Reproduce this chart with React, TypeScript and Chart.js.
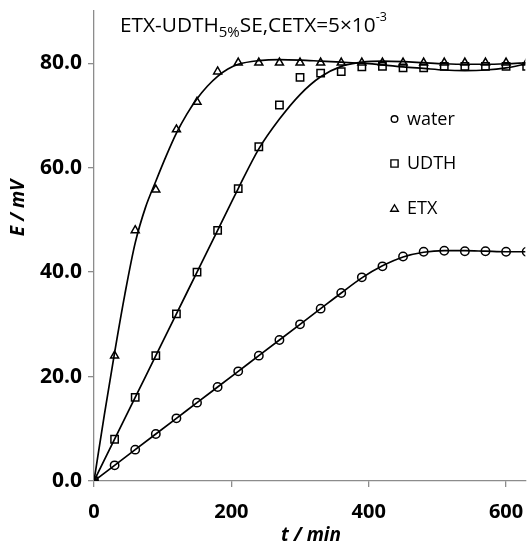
import React, { useEffect, useRef } from 'react';
import { Chart, registerables } from 'chart.js';

Chart.register(...registerables);

const FONT = '"Open Sans", "Noto Sans", sans-serif';
const AXIS_COLOR = '#8c8c8c';

// measurement times (min)
const times = [0, 30, 60, 90, 120, 150, 180, 210, 240, 270, 300, 330, 360, 390, 420, 450, 480, 510, 540, 570, 600, 630];
// measured E (mV)
const waterValues = [0, 3, 6, 9, 12, 15, 18, 21, 24, 27, 30, 33, 36, 39, 41.1, 43, 43.9, 44.1, 44, 44, 43.9, 43.9];
const udthValues = [0, 8, 16, 24, 32, 40, 48, 56, 64, 72, 77.3, 78.1, 78.4, 79.3, 79.4, 79.1, 79.1, 79.4, 79.4, 79.4, 79.4, 79.4];
const etxValues = [0, 24, 48, 55.8, 67.3, 72.6, 78.4, 80.1, 80.1, 80.1, 80.1, 80.1, 80.1, 80.1, 80.1, 80.1, 80.1, 80.1, 80.1, 80.1, 80.1, 80.1];

// fitted curves
const waterFitValues = [0, 3, 6, 9, 12, 15, 18, 21, 24, 27, 30, 33, 36, 38.9, 41.2, 42.9, 43.8, 44.1, 44.1, 44, 43.9, 43.9];
const udthFitValues = [0, 8, 16, 24, 32, 40, 48, 56, 63.6, 69.3, 74, 77.4, 79.4, 80.2, 80.4, 80.3, 80.1, 79.9, 79.8, 79.8, 79.9, 80.1];
const etxFitTimes = [0, 15, 30, 45, 60, 75, 90, 105, 120, 135, 150, 165, 180, 195, 210, 240, 270, 300, 330, 360, 390, 420, 450, 480, 510, 540, 570, 600, 630];
const etxFitValues = [0, 12.6, 24.6, 35.8, 45.6, 52.4, 57.4, 62.2, 66.6, 70.2, 73.2, 75.6, 77.5, 78.9, 79.8, 80.5, 80.7, 80.6, 80.4, 80.2, 80.0, 79.7, 79.3, 79.0, 78.7, 78.6, 78.7, 79.1, 79.9];

const seriesLabels = ['water', 'UDTH', 'ETX'];
const xTickValues = [0, 200, 400, 600];
const yTickValues = [0, 20, 40, 60, 80];
const xMax = 628;
const yMax = 90;

const toPoints = (xs: number[], ys: number[]) => xs.map((x, i) => ({ x, y: ys[i] }));

function drawMarker(ctx: CanvasRenderingContext2D, style: string, x: number, y: number, r: number) {
  ctx.beginPath();
  if (style === 'circle') {
    ctx.arc(x, y, r, 0, Math.PI * 2);
  } else if (style === 'rect') {
    ctx.rect(x - r, y - r, 2 * r, 2 * r);
  } else {
    const h = r * 1.7;
    ctx.moveTo(x, y - h / 2 - 0.5);
    ctx.lineTo(x + r, y + h / 2 - 0.5);
    ctx.lineTo(x - r, y + h / 2 - 0.5);
    ctx.closePath();
  }
  ctx.stroke();
}

const overlayPlugin = {
  id: 'overlay',
  afterDraw(chart: any) {
    const ctx: CanvasRenderingContext2D = chart.ctx;
    ctx.save();
    ctx.fillStyle = '#000';
    ctx.strokeStyle = '#000';

    // title with subscript / superscript
    const parts = [
      { t: 'ETX-UDTH', size: 20.8, dy: 0 },
      { t: '5%', size: 15, dy: 5.5 },
      { t: 'SE,CETX=5×10', size: 20.8, dy: 0 },
      { t: '-3', size: 12.5, dy: -11 },
    ];
    let x = 120;
    const base = 31.5;
    ctx.textAlign = 'left';
    ctx.textBaseline = 'alphabetic';
    for (const p of parts) {
      ctx.font = `${p.size}px ${FONT}`;
      ctx.fillText(p.t, x, base + p.dy);
      x += ctx.measureText(p.t).width;
    }

    // axis titles
    ctx.font = `italic bold 19px ${FONT}`;
    ctx.textAlign = 'center';
    ctx.textBaseline = 'middle';
    ctx.fillText('t / min', 311, 536);
    ctx.save();
    ctx.translate(19, 208);
    ctx.rotate(-Math.PI / 2);
    ctx.fillText('E / mV', 0, 0);
    ctx.restore();

    // legend
    const styles = ['circle', 'rect', 'triangle'];
    const sizes = [3.3, 3.6, 3.8];
    const rows = [119, 163.5, 208.5];
    ctx.lineWidth = 1.4;
    ctx.font = `18px ${FONT}`;
    ctx.textAlign = 'left';
    ctx.textBaseline = 'middle';
    seriesLabels.forEach((lab, i) => {
      drawMarker(ctx, styles[i], 394.5, rows[i], sizes[i]);
      ctx.fillText(lab, 407, rows[i] + 0.5);
    });
    ctx.restore();
  },
};

export default function App() {
  const ref = useRef<HTMLCanvasElement | null>(null);

  useEffect(() => {
    if (!ref.current) return;
    const markerBase = {
      showLine: false,
      pointBorderColor: '#000',
      pointBackgroundColor: 'rgba(0,0,0,0)',
      pointBorderWidth: 1.5,
    };
    const fitBase = {
      showLine: true,
      borderColor: '#000',
      borderWidth: 1.7,
      pointRadius: 0,
      cubicInterpolationMode: 'monotone' as const,
      fill: false,
    };
    const chart = new Chart(ref.current, {
      type: 'scatter',
      data: {
        datasets: [
          { ...fitBase, label: 'water fit', data: toPoints(times, waterFitValues) },
          { ...fitBase, label: 'UDTH fit', data: toPoints(times, udthFitValues) },
          { ...fitBase, label: 'ETX fit', data: toPoints(etxFitTimes, etxFitValues) },
          { ...markerBase, label: seriesLabels[0], data: toPoints(times, waterValues), pointStyle: 'circle', pointRadius: 4.2 },
          { ...markerBase, label: seriesLabels[1], data: toPoints(times, udthValues), pointStyle: 'rect', pointRadius: 5.2 },
          { ...markerBase, label: seriesLabels[2], data: toPoints(times, etxValues), pointStyle: 'triangle', pointRadius: 4.6 },
        ],
      },
      options: {
        animation: false,
        responsive: false,
        maintainAspectRatio: false,
        layout: { padding: { top: 11, left: 0, right: 0, bottom: 0 } },
        plugins: { legend: { display: false }, tooltip: { enabled: false }, title: { display: false } },
        scales: {
          x: {
            type: 'linear',
            min: 0,
            max: xMax,
            afterBuildTicks: (s: any) => { s.ticks = xTickValues.map((v) => ({ value: v })); },
            afterFit: (s: any) => { s.height = 65; s.paddingLeft = 0; s.paddingRight = 0; },
            ticks: {
              color: '#000',
              font: { family: FONT, size: 20, weight: 'bold' },
              padding: 13,
              maxRotation: 0,
              callback: (v: any) => String(v),
            },
            grid: { drawOnChartArea: false, drawTicks: true, tickLength: 6, color: AXIS_COLOR, lineWidth: 1.3 },
            border: { display: true, color: AXIS_COLOR, width: 1.3 },
          },
          y: {
            type: 'linear',
            min: 0,
            max: yMax,
            afterBuildTicks: (s: any) => { s.ticks = yTickValues.map((v) => ({ value: v })); },
            afterFit: (s: any) => { s.width = 94; s.paddingTop = 0; s.paddingBottom = 0; },
            ticks: {
              color: '#000',
              font: { family: FONT, size: 21, weight: 'bold' },
              padding: 6,
              callback: (v: any) => Number(v).toFixed(1),
            },
            grid: { drawOnChartArea: false, drawTicks: true, tickLength: 6, color: AXIS_COLOR, lineWidth: 1.3 },
            border: { display: true, color: AXIS_COLOR, width: 1.3 },
          },
        },
      },
      plugins: [overlayPlugin],
    } as any);
    return () => chart.destroy();
  }, []);

  return (
    <div style={{ position: 'absolute', left: 0, top: 0, width: 532, height: 546, background: '#fff', overflow: 'hidden' }}>
      <canvas ref={ref} width={532} height={546} style={{ display: 'block' }} />
    </div>
  );
}
